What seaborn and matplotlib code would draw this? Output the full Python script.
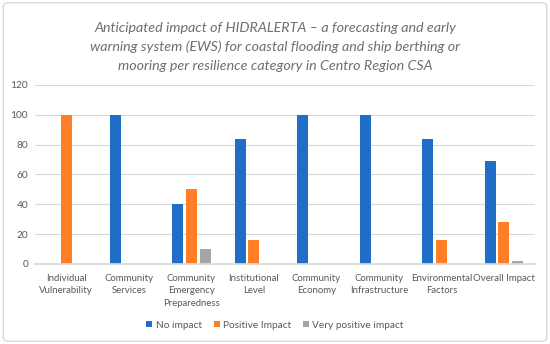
import matplotlib
matplotlib.use("Agg")
import matplotlib.pyplot as plt
import seaborn as sns
import pandas as pd
from matplotlib.patches import FancyBboxPatch

categories = ["Individual\nVulnerability", "Community\nServices", "Community\nEmergency\nPreparedness",
              "Institutional\nLevel", "Community\nEconomy", "Community\nInfrastructure",
              "Environmental\nFactors", "Overall Impact"]
series = ["No impact", "Positive Impact", "Very positive impact"]
no_impact = [0, 100, 40, 84, 100, 100, 84, 69]
positive_impact = [100, 0, 50, 16, 0, 0, 16, 28]
very_positive_impact = [0, 0, 10, 0, 0, 0, 0, 2]
colors = ["#1F6FC9", "#FF7F27", "#A5A5A5"]
title = ("Anticipated impact of HIDRALERTA \u2013 a forecasting and early\n"
         "warning system (EWS) for coastal flooding and ship berthing or\n"
         "mooring per resilience category in Centro Region CSA")

rows = []
for s, vals in zip(series, [no_impact, positive_impact, very_positive_impact]):
    for c, v in zip(categories, vals):
        rows.append({"category": c, "series": s, "value": v})
df = pd.DataFrame(rows)

sns.set_theme(style="white")
plt.rcParams['font.family'] = ['Lato', 'DejaVu Sans']

fig = plt.figure(figsize=(5.5, 3.44), dpi=100)
ax = fig.add_axes([0.0636, 0.2326, 0.9094, 0.5204])
sns.barplot(data=df, x="category", y="value", hue="series", palette=colors,
            width=0.66, gap=0.2, ax=ax, legend=True, saturation=1, linewidth=0)

ax.set_ylim(0, 120)
ax.set_yticks(range(0, 121, 20))
ax.set_xlim(-0.5, len(categories) - 0.5)
ax.grid(axis="y", color="#D9D9D9", linewidth=0.8)
ax.set_axisbelow(True)
for sp in ["top", "right", "left"]:
    ax.spines[sp].set_visible(False)
ax.spines["bottom"].set_color("#D9D9D9")
ax.tick_params(axis="y", length=0, labelsize=7.3, labelcolor="#595959", pad=5)
ax.tick_params(axis="x", length=0, labelsize=6.9, labelcolor="#595959", pad=7)
for lab in ax.get_xticklabels():
    lab.set_linespacing(1.5)
ax.set_xlabel("")
ax.set_ylabel("")

fig.text(0.5, 1 - 47 / 344, title, ha="center", va="center", fontsize=10.3, style="italic",
         color="#6E6E6E", linespacing=1.62)

handles, labels = ax.get_legend_handles_labels()
ax.legend(handles, labels, loc="center", bbox_to_anchor=(0.5, 1 - 325 / 344),
          bbox_transform=fig.transFigure, ncol=3, frameon=False, fontsize=7.3,
          handlelength=0.6, handleheight=0.6, handletextpad=0.3, columnspacing=1.2,
          labelcolor="#595959")

border = FancyBboxPatch((0.006, 0.008), 0.988, 0.984, boxstyle="round,pad=0,rounding_size=0.01",
                        transform=fig.transFigure, fill=False, edgecolor="#D9D9D9", linewidth=1)
fig.patches.append(border)

fig.savefig("out.png", dpi=100)
